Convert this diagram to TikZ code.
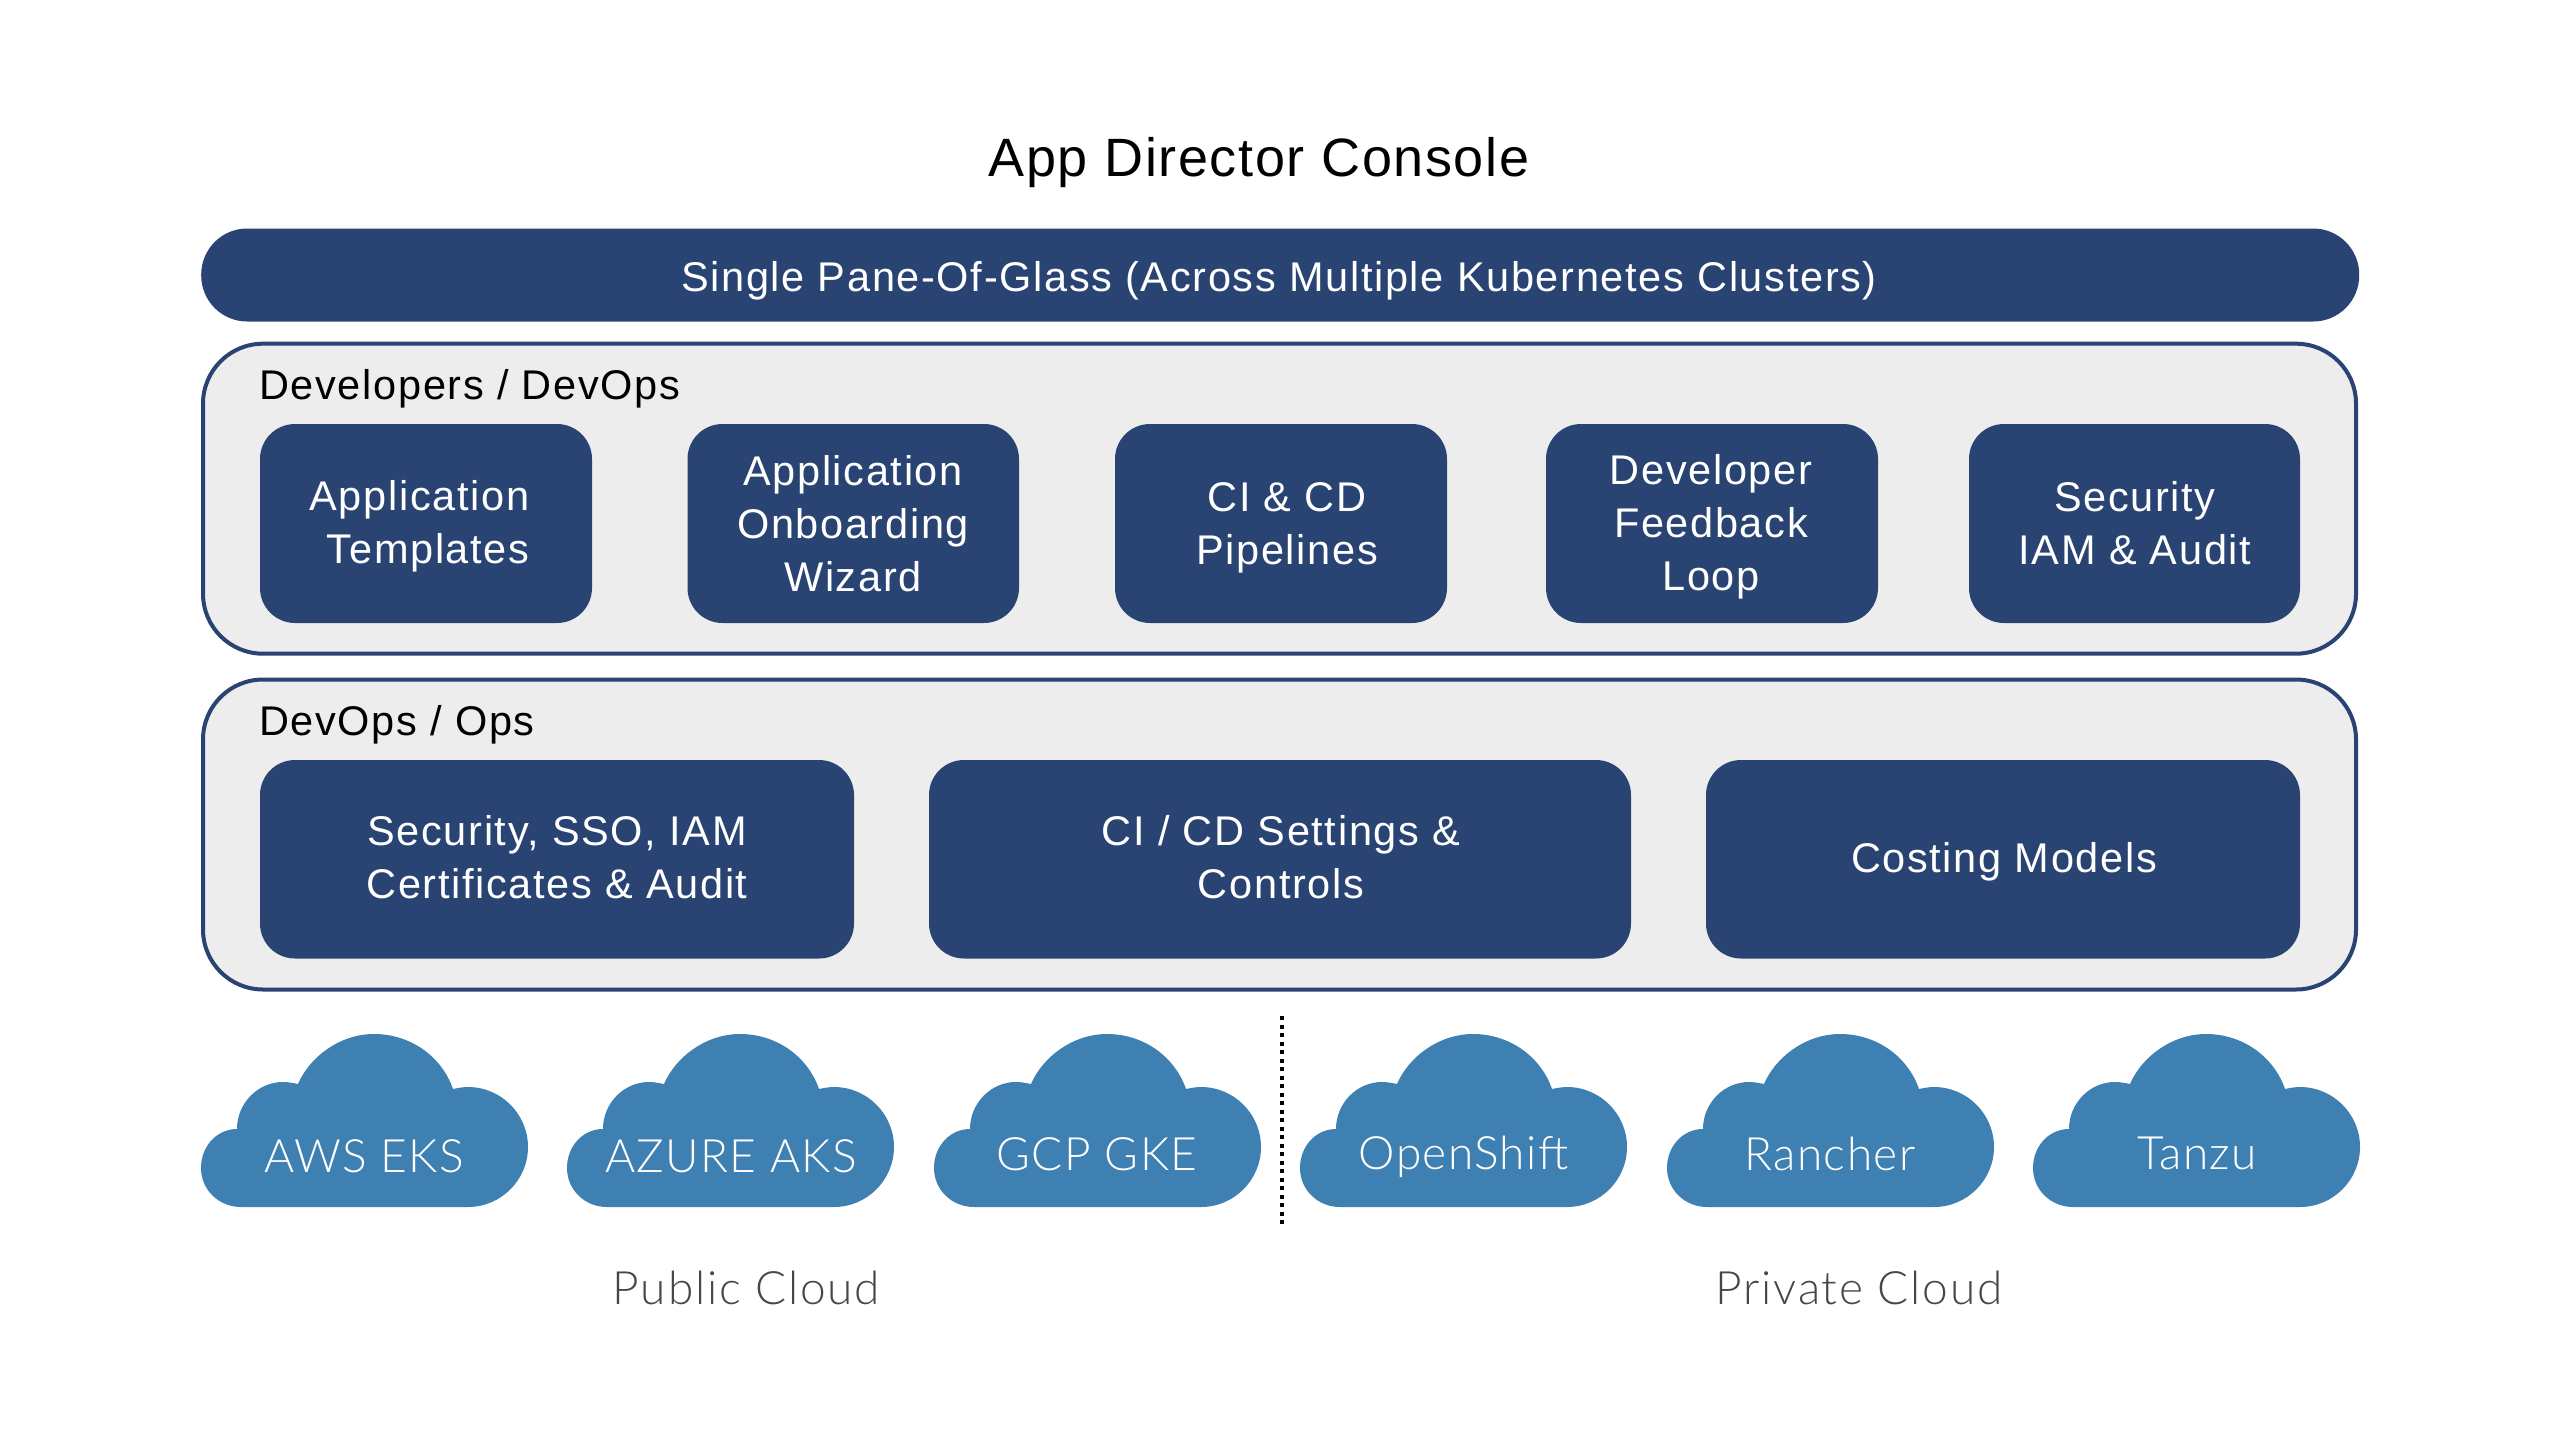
\documentclass[tikz,border=0pt]{standalone}
\usepackage{fontspec}
\setmainfont{Liberation Sans}[LetterSpace=4]
\newfontfamily\titlefont{Liberation Sans}[LetterSpace=3]
\newfontfamily\lightfont{Lato Light}[LetterSpace=3]
\newfontfamily\capfont{Lato Light}[LetterSpace=4]
\definecolor{navy}{HTML}{294372}
\definecolor{panelgrey}{HTML}{EDEDED}
\definecolor{cloudblue}{HTML}{3F80B3}
\definecolor{capgrey}{HTML}{4A4648}
\tikzset{
  x=1pt,y=-1pt,
  bartext/.style={text=white,font=\fontsize{41.5}{53}\selectfont,align=center,inner sep=0pt},
  card/.style={fill=navy,draw=none,rounded corners=35pt},
  panel/.style={fill=panelgrey,draw=navy,line width=4pt,rounded corners=60pt,minimum width=2153pt,minimum height=310pt,anchor=north west,inner sep=0pt},
  paneltitle/.style={text=black,font=\fontsize{41.5}{53}\selectfont,anchor=base west,inner sep=0pt},
  cloudtext/.style={text=white,font=\lightfont\fontsize{46}{53}\selectfont,anchor=base,inner sep=0pt},
  captext/.style={text=capgrey,font=\capfont\fontsize{46}{53}\selectfont,anchor=base,inner sep=0pt},
  cloudshape/.pic={
    \fill[cloudblue] (40,173) .. controls (18,173) and (0,156) .. (0,134)
      .. controls (0,112) and (16,95) .. (36,95)
      .. controls (36,69) and (57,48) .. (82,48)
      .. controls (87,48) and (92,49) .. (97,50)
      .. controls (108,24) and (138,0) .. (173,0)
      .. controls (210,0) and (241,23) .. (252,55)
      .. controls (257,54) and (262,53) .. (267,53)
      .. controls (300,53) and (327,80) .. (327,113)
      .. controls (327,146) and (300,173) .. (267,173)
      -- cycle;
  }
}
\begin{document}
\begin{tikzpicture}
\useasboundingbox (0,0) rectangle (2560,1440);
\node[anchor=base,inner sep=0pt,text=black,font=\titlefont\fontsize{54}{60}\selectfont] (title) at (1259,176.7) {App Director Console};
\node[fill=navy,rounded corners=46pt,minimum width=2158pt,minimum height=93pt,anchor=north west,inner sep=0pt] (bar) at (201,228.3) {};
\node[bartext,anchor=base] (bartxt) at (1279,291.7) {Single Pane-Of-Glass (Across Multiple Kubernetes Clusters)};
\node[panel] (p1) at (201,341.7) {};
\node[paneltitle] (p1t) at (259,399) {Developers / DevOps};
\node[panel] (p2) at (201,677.5) {};
\node[paneltitle] (p2t) at (259,735) {DevOps / Ops};
\foreach \n/\xa/\xb/\ya/\yb in {c1/260/592/424/623,c2/687.5/1019/424/623,c3/1115/1447/424/623,c4/1546/1878/424/623,c5/1969/2300/424/623,d1/260/854/760/958.5,d2/929/1631/760/958.5,d3/1706/2300/760/958.5}{
  \path[card] (\xa,\ya) rectangle (\xb,\yb);
}
\node[bartext,align=right] (t1) at (419.5,526.5) {Application\\Templates};
\node[bartext] (t2) at (853,523.5) {Application\\Onboarding\\Wizard};
\node[bartext] (t3) at (1287,527.5) {CI \& CD\\Pipelines};
\node[bartext] (t4) at (1711,527) {Developer\\Feedback\\Loop};
\node[bartext] (t5) at (2135,523) {Security\\IAM \& Audit};
\node[bartext] (u1) at (557,857) {Security, SSO, IAM\\Certificates \& Audit};
\node[bartext] (u2) at (1281,857) {CI / CD Settings \&\\Controls};
\node[bartext,anchor=base] (u3) at (2004,872.5) {Costing Models};
\foreach \xa/\tx/\ty/\lab in {201/364/1172/AWS EKS,567/731/1172/AZURE AKS,934/1097/1170/GCP GKE,1300/1463.5/1169/OpenShift,1667/1830/1170/Rancher,2033/2197/1169/Tanzu}{
  \pic at (\xa,1034) {cloudshape};
  \node[cloudtext] at (\tx,\ty) {\lab};
}
\coordinate (da) at (1281.7,1016);
\coordinate (db) at (1281.7,1225);
\draw[black,line width=4pt,dash pattern=on 4pt off 4.5pt] (da) -- (db);
\node[captext] (pub) at (746.5,1304) {Public Cloud};
\node[captext] (pri) at (1859,1304) {Private Cloud};
\end{tikzpicture}
\end{document}
